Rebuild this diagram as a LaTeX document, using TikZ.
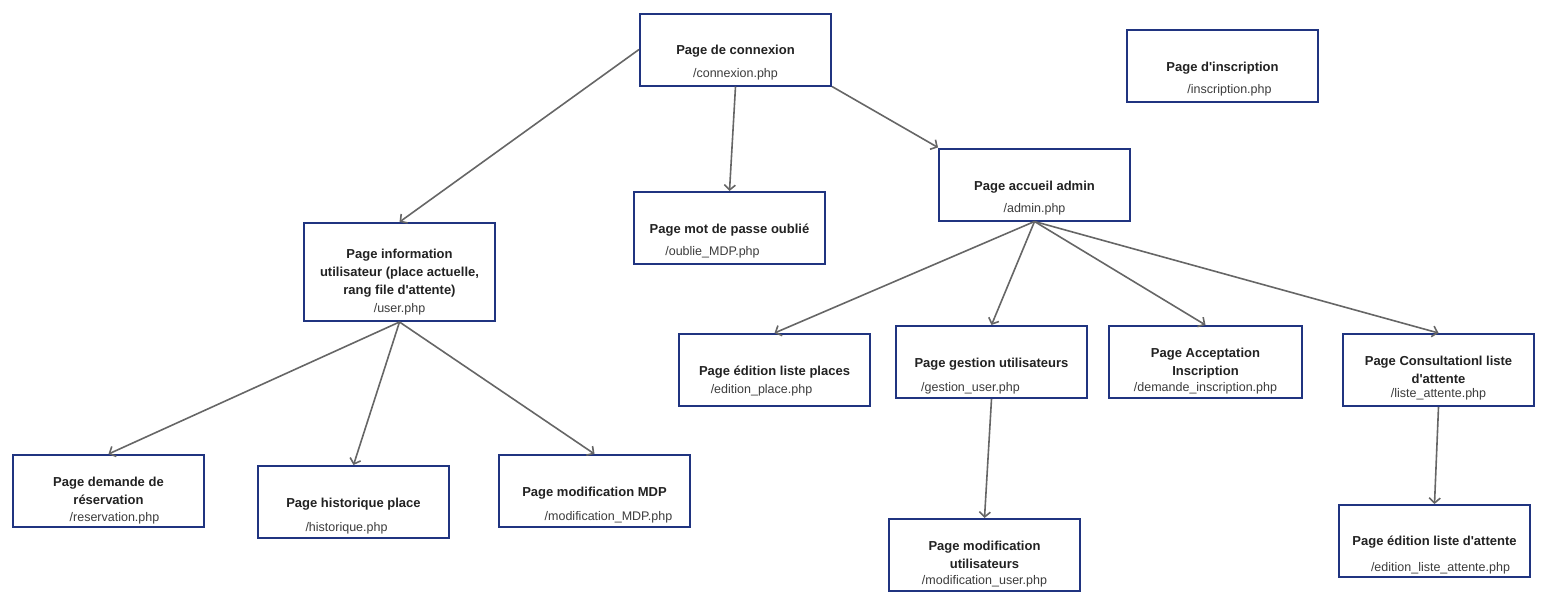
\documentclass[tikz,border=0pt]{standalone}
\usepackage{fontspec}
\setmainfont{Liberation Sans}
\usepackage{xcolor}
\usetikzlibrary{arrows.meta, positioning}
\definecolor{boxblue}{RGB}{32,52,128}
\definecolor{linegray}{RGB}{102,102,102}
\definecolor{titlegray}{RGB}{34,34,34}
\definecolor{pathgray}{RGB}{60,60,60}
\newcommand{\php}[2][0pt]{{\mdseries\color{pathgray}\fontsize{12.5}{15}\selectfont\hspace*{#1}#2}}
\tikzstyle{page} = [rectangle, minimum width=191pt, minimum height=72pt, text centered, align=center, draw=boxblue, line width=2pt, fill=white, text=titlegray, font=\fontsize{13}{18}\selectfont\bfseries, inner sep=2pt]
\tikzstyle{arrow} = [draw=linegray, line width=1.6pt, -{Straight Barb[length=5pt,width=11pt]}]

\begin{document}
\begin{tikzpicture}[x=1pt, y=-1pt]
    \useasboundingbox (0,0) rectangle (1545,611);

    % top row
    \node[page] (connexion) at (735.5,49.5) {\rule{0pt}{36pt}Page de connexion\\[5pt]\php{/connexion.php}};
    \node[page] (inscription) at (1222.5,65.5) {\rule{0pt}{36pt}Page d\textquotesingle inscription\\[4pt]\php[14pt]{/inscription.php}};
    \node[page] (admin) at (1034.5,184.5) {\rule{0pt}{36pt}Page accueil admin\\[4pt]\php{/admin.php}};
    \node[page] (oublie) at (729.5,228) {\rule{0pt}{36pt}Page mot de passe oublié\\[4pt]\php[-34pt]{/oublie\_MDP.php}};
    \node[page, minimum height=98pt] (user) at (399.5,272) {\rule{0pt}{30pt}Page information\\utilisateur (place actuelle,\\rang file d\textquotesingle attente)\\\php{/user.php}};

    % admin pages
    \node[page] (editplace) at (774.5,370) {\rule{0pt}{32pt}Page édition liste places\\[0pt]\php[-26pt]{/edition\_place.php}};
    \node[page] (gestion) at (991.5,362) {\rule{0pt}{37pt}Page gestion utilisateurs\\[6pt]\php[-42pt]{/gestion\_user.php}};
    \node[page, minimum width=193pt] (demande) at (1205.5,362) {\rule{0pt}{28pt}Page Acceptation\\Inscription\\[-2pt]\php{/demande\_inscription.php}};
    \node[page] (liste) at (1438.5,370) {\rule{0pt}{26pt}Page Consultationl liste\\d\textquotesingle attente\\[-4pt]\php{/liste\_attente.php}};

    % user pages
    \node[page] (reservation) at (108.5,491) {\rule{0pt}{29pt}Page demande de\\réservation\\[-1pt]\php[12pt]{/reservation.php}};
    \node[page] (historique) at (353.5,502) {\rule{0pt}{37pt}Page historique place\\[6pt]\php[-14pt]{/historique.php}};
    \node[page] (modifmdp) at (594.5,491) {\rule{0pt}{37pt}Page modification MDP\\[6pt]\php[28pt]{/modification\_MDP.php}};

    % bottom pages
    \node[page] (modifuser) at (984.5,555) {\rule{0pt}{28pt}Page modification\\utilisateurs\\[-2pt]\php{/modification\_user.php}};
    \node[page] (editliste) at (1434.5,541) {\rule{0pt}{38pt}Page édition liste d\textquotesingle attente\\[8pt]\php[12pt]{/edition\_liste\_attente.php}};

    \draw[arrow] (connexion.west) -- (user.north);
    \draw[arrow] (connexion.south) -- (oublie.north);
    \draw[arrow] (connexion.south east) -- (admin.north west);
    \draw[arrow] (admin.south) -- (editplace.north);
    \draw[arrow] (admin.south) -- (gestion.north);
    \draw[arrow] (admin.south) -- (demande.north);
    \draw[arrow] (admin.south) -- (liste.north);
    \draw[arrow] (user.south) -- (reservation.north);
    \draw[arrow] (user.south) -- (historique.north);
    \draw[arrow] (user.south) -- (modifmdp.north);
    \draw[arrow] (gestion.south) -- (modifuser.north);
    \draw[arrow] (liste.south) -- (editliste.north);
\end{tikzpicture}
\end{document}
